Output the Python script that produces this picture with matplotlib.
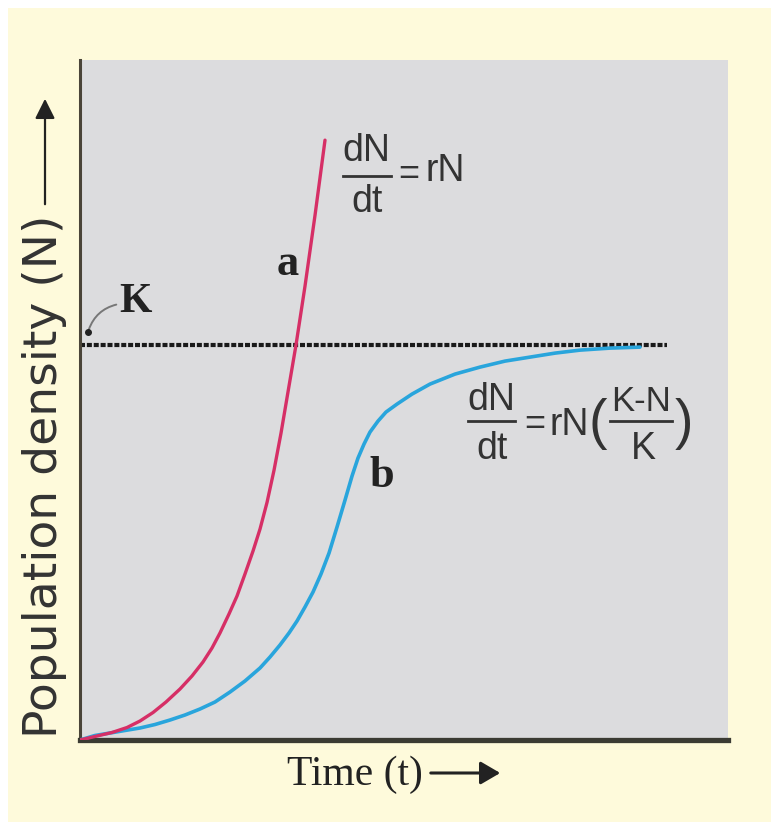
import matplotlib.pyplot as plt
from matplotlib.patches import Rectangle, FancyArrowPatch
from matplotlib.lines import Line2D

W, H = 779, 833

# curve a: exponential growth (J-shaped) (K = 100)
time_a = [0, 2.62, 4.94, 7.25, 9.26, 11.27, 13.27, 15.43, 17.28, 18.98, 20.37, 21.60, 22.99,
          24.23, 25.46, 26.70, 27.78, 28.86, 29.94, 31.02, 32.10, 33.33, 34.72, 36.27, 37.81]
pop_a = [0, 1.01, 1.90, 3.16, 4.81, 6.96, 9.62, 12.91, 16.20, 19.75, 23.29, 27.09, 31.90,
         36.46, 42.03, 47.85, 53.42, 60.15, 68.30, 77.70, 88.15, 100.0, 114.9, 132.9, 151.9]

# curve b: logistic growth (S-shaped)
time_b = [0, 2.31, 4.63, 6.94, 9.26, 11.57, 13.89, 16.20, 18.52, 20.83, 23.15, 25.46, 27.78,
          29.32, 30.86, 32.25, 33.49, 34.72, 35.96, 37.19, 38.43, 39.66, 40.90, 41.98, 42.90,
          43.83, 44.75, 45.99, 47.22, 48.92, 51.23, 54.01, 57.87, 61.73, 65.59, 69.44, 73.30,
          77.16, 81.79, 86.42]
pop_b = [0, 1.14, 1.77, 2.41, 3.04, 3.92, 5.06, 6.33, 7.85, 9.62, 12.15, 14.94, 18.23,
         21.01, 24.05, 27.09, 30.13, 33.67, 37.47, 42.03, 47.34, 53.92, 60.76, 66.84, 71.39,
         74.94, 77.97, 80.76, 83.04, 85.06, 87.59, 90.13, 92.66, 94.43, 95.95, 96.96, 97.97,
         98.73, 99.24, 99.49]

# carrying capacity line
K = 100
k_time = [0, 90.6]


def fx(px):
    return px / W


def fy(py):
    return 1 - py / H


fig = plt.figure(figsize=(W / 100, H / 100), dpi=100)
fig.patch.set_facecolor("white")
fig.patches.append(Rectangle((fx(8), fy(822)), (771 - 8) / W, (822 - 8) / H,
                             transform=fig.transFigure, facecolor="#fefadb",
                             edgecolor="none", zorder=-5))

ax = fig.add_axes([fx(80), fy(740), 648 / W, 680 / H])
ax.set_zorder(1)
ax.set_facecolor("#dcdcde")
ax.set_xlim(0, 100)
ax.set_ylim(0, 172.2)
ax.set_xticks([])
ax.set_yticks([])
for side in ["top", "right"]:
    ax.spines[side].set_visible(False)
ax.spines["left"].set_color("#4a4438")
ax.spines["left"].set_linewidth(2.2)
ax.spines["bottom"].set_color("#3b3b33")
ax.spines["bottom"].set_linewidth(3.8)

ax.plot(k_time, [K, K], color="#1a1a1a", lw=3.0, linestyle=(0, (1.2, 0.45)), zorder=2)
ax.plot(time_b, pop_b, color="#29a5dc", lw=2.6, solid_capstyle="round",
        solid_joinstyle="round", zorder=3)
ax.plot(time_a, pop_a, color="#d62f66", lw=2.4, solid_capstyle="round",
        solid_joinstyle="round", zorder=3)

sans = ["Liberation Sans", "DejaVu Sans"]
serif = ["Liberation Serif", "DejaVu Serif"]
eq_col = "#333333"


def txt(px, py, s, size, family, **kw):
    fig.text(fx(px), fy(py), s, fontsize=size, family=family, ha="center",
             va="center", color=kw.pop("color", eq_col), zorder=5, **kw)


def bar(x0, x1, py, lw=2.0):
    fig.add_artist(Line2D([fx(x0), fx(x1)], [fy(py), fy(py)], color=eq_col, lw=lw,
                          transform=fig.transFigure, zorder=5))


# dN/dt = rN
txt(366, 151, "dN", 27, sans)
bar(343, 391, 176)
txt(367, 202, "dt", 27, sans)
txt(409, 175, "=", 26, sans)
txt(445, 171, "rN", 27, sans)

# dN/dt = rN((K-N)/K)
txt(491, 400, "dN", 27, sans)
bar(468, 515, 421)
txt(492, 449, "dt", 27, sans)
txt(535, 425, "=", 26, sans)
txt(569, 425, "rN", 27, sans)
txt(598, 424, "(", 40, sans)
txt(641, 402, "K-N", 25, sans)
bar(610, 672, 421)
txt(643, 449, "K", 27, sans)
txt(684, 424, ")", 40, sans)

# curve labels
txt(288, 264, "a", 32, serif, weight="bold", color="#222222")
txt(382, 476, "b", 32, serif, weight="bold", color="#222222")
txt(135, 302, "K", 30, serif, weight="bold", color="#222222")
fig.add_artist(FancyArrowPatch((fx(88), fy(332)), (fx(119), fy(304)),
                               transform=fig.transFigure, arrowstyle="-",
                               connectionstyle="arc3,rad=-0.3", color="#777777", lw=1.4,
                               zorder=5))
fig.add_artist(Line2D([fx(88)], [fy(332)], marker="o", ms=4, color="#222222",
                      transform=fig.transFigure, zorder=5))

# axis titles with arrows
txt(355, 775, "Time (t)", 30, serif, color="#222222")
fig.add_artist(FancyArrowPatch((fx(428), fy(773)), (fx(503), fy(773)),
                               transform=fig.transFigure,
                               arrowstyle="-|>,head_length=0.6,head_width=0.35",
                               mutation_scale=20, color="#222222", lw=2.2))

fig.text(fx(45), fy(476), "Population density (N)", fontsize=34, family="DejaVu Sans",
         rotation=90, ha="center", va="center", color="#333333")
fig.add_artist(FancyArrowPatch((fx(45), fy(207)), (fx(45), fy(96)),
                               transform=fig.transFigure,
                               arrowstyle="-|>,head_length=0.6,head_width=0.3",
                               mutation_scale=20, color="#222222", lw=1.6))

fig.savefig("out.png", dpi=100)
